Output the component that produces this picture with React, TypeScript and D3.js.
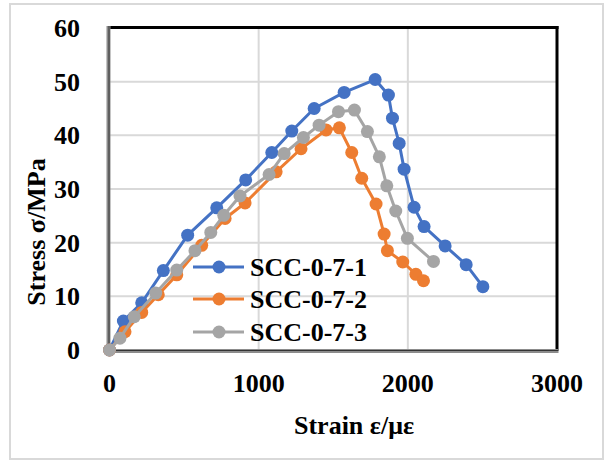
import React from "react";
import * as d3 from "d3";

const strain1 = [0, 93, 216, 361, 524, 719, 913, 1088, 1222, 1372, 1573, 1781, 1870, 1897, 1942, 1975, 2042, 2109, 2250, 2391, 2503];
const stress1 = [0, 5.4, 8.8, 14.8, 21.4, 26.5, 31.7, 36.8, 40.8, 45.0, 48.0, 50.4, 47.5, 43.2, 38.5, 33.7, 26.6, 23.0, 19.4, 15.9, 11.8];

const strain2 = [0, 104, 216, 327, 451, 618, 775, 909, 1117, 1284, 1452, 1541, 1624, 1691, 1787, 1841, 1863, 1966, 2054, 2105];
const stress2 = [0, 3.4, 7.0, 10.3, 14.0, 19.5, 24.5, 27.4, 33.2, 37.5, 41.0, 41.4, 36.8, 32.0, 27.2, 21.6, 18.5, 16.4, 14.1, 12.9];

const strain3 = [0, 70, 166, 310, 451, 573, 679, 766, 875, 1070, 1171, 1300, 1405, 1535, 1642, 1729, 1809, 1859, 1919, 1997, 2172];
const stress3 = [0, 2.2, 6.2, 10.6, 14.9, 18.5, 21.9, 25.1, 28.7, 32.7, 36.6, 39.6, 41.9, 44.4, 44.7, 40.7, 36.0, 30.6, 25.9, 20.8, 16.5];

const seriesNames = ["SCC-0-7-1", "SCC-0-7-2", "SCC-0-7-3"];
const seriesColors = ["#4472C4", "#ED7D31", "#A5A5A5"];
const xTicks = [0, 1000, 2000, 3000];
const yTicks = [0, 10, 20, 30, 40, 50, 60];

const FONT = "'Liberation Serif', 'Times New Roman', serif";

export default function App() {
  const left = 109.5, right = 557, top = 28, bottom = 350;
  const x = d3.scaleLinear().domain([0, 3000]).range([left, right]);
  const y = d3.scaleLinear().domain([0, 60]).range([bottom, top]);
  const line = d3.line<[number, number]>().x(d => x(d[0])).y(d => y(d[1]));

  const data = [
    strain1.map((s, i) => [s, stress1[i]] as [number, number]),
    strain2.map((s, i) => [s, stress2[i]] as [number, number]),
    strain3.map((s, i) => [s, stress3[i]] as [number, number]),
  ];

  const legendY = [267, 299, 332];

  return (
    <svg width={605} height={465} style={{ position: "absolute", left: 0, top: 0, background: "#fff" }}>
      <rect x={10} y={4} width={593} height={455} fill="#fff" stroke="#d9d9d9" strokeWidth={2} />
      {/* gridlines */}
      {yTicks.filter(t => t > 0 && t < 60).map(t => (
        <line key={"gy" + t} x1={left} x2={right} y1={y(t)} y2={y(t)} stroke="#d9d9d9" strokeWidth={2} />
      ))}
      {xTicks.filter(t => t > 0 && t < 3000).map(t => (
        <line key={"gx" + t} x1={x(t)} x2={x(t)} y1={top} y2={bottom} stroke="#d9d9d9" strokeWidth={2} />
      ))}
      {/* frame */}
      <line x1={left - 1} x2={right + 1.5} y1={top - 0.5} y2={top - 0.5} stroke="#000" strokeWidth={3} />
      <line x1={right} x2={right} y1={top - 2} y2={bottom} stroke="#000" strokeWidth={3} />
      <line x1={left - 1} x2={left - 1} y1={top - 2} y2={bottom + 1} stroke="#8c8c8c" strokeWidth={4} />
      <line x1={left - 0.5} x2={left - 0.5} y1={top - 2} y2={bottom + 1} stroke="#333" strokeWidth={1} />
      <line x1={left - 1} x2={right + 1.5} y1={bottom + 1} y2={bottom + 1} stroke="#8c8c8c" strokeWidth={4} />
      <line x1={left - 1} x2={right + 1.5} y1={bottom + 0.5} y2={bottom + 0.5} stroke="#333" strokeWidth={1} />

      {/* series */}
      {data.map((d, si) => (
        <g key={"s" + si}>
          <path d={line(d) || ""} fill="none" stroke={seriesColors[si]} strokeWidth={3} strokeLinejoin="round" />
          {d.map((p, i) => (
            <circle key={i} cx={x(p[0])} cy={y(p[1])} r={6.5} fill={seriesColors[si]} />
          ))}
        </g>
      ))}

      {/* legend */}
      {seriesNames.map((n, i) => (
        <g key={"l" + i}>
          <line x1={193} x2={244} y1={legendY[i]} y2={legendY[i]} stroke={seriesColors[i]} strokeWidth={3} />
          <circle cx={219} cy={legendY[i]} r={6.5} fill={seriesColors[i]} />
          <text x={250} y={legendY[i] + 9} fontFamily={FONT} fontWeight="bold" fontSize={26} fill="#000">{n}</text>
        </g>
      ))}

      {/* y tick labels */}
      {yTicks.map(t => (
        <text key={"yt" + t} x={80} y={y(t) + 9} textAnchor="end" fontFamily={FONT} fontWeight="bold" fontSize={26} fill="#000">{t}</text>
      ))}
      {/* x tick labels */}
      {xTicks.map(t => (
        <text key={"xt" + t} x={x(t)} y={392} textAnchor="middle" fontFamily={FONT} fontWeight="bold" fontSize={26} fill="#000">{t}</text>
      ))}

      <text x={354} y={434} textAnchor="middle" fontFamily={FONT} fontWeight="bold" fontSize={26} fill="#000">Strain ε/με</text>
      <text transform="translate(45,232) rotate(-90)" textAnchor="middle" fontFamily={FONT} fontWeight="bold" fontSize={26} fill="#000">Stress σ/MPa</text>
    </svg>
  );
}
